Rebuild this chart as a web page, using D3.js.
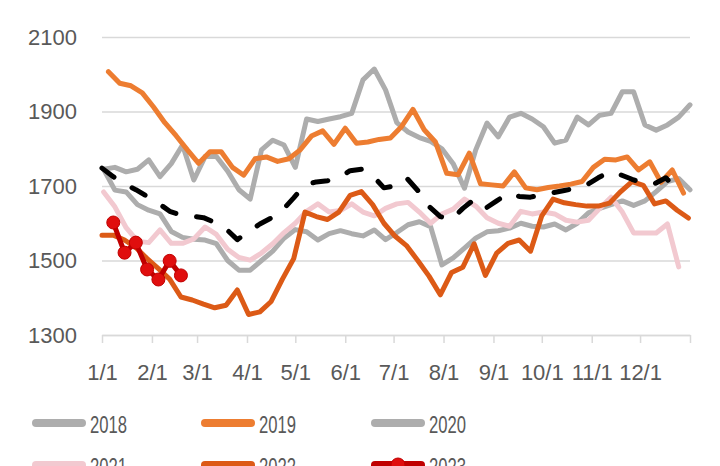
<!DOCTYPE html>
<html>
<head>
<meta charset="utf-8">
<script src="https://cdn.jsdelivr.net/npm/d3@7"></script>
<style>
  html, body { margin: 0; padding: 0; background: #fff; }
  svg { display: block; font-family: "Liberation Sans", Arial, sans-serif; }
</style>
</head>
<body>
<svg id="chart" width="720" height="466"></svg>
<script>
// ---------- data ----------
const monthLabels = ["1/1","2/1","3/1","4/1","5/1","6/1","7/1","8/1","9/1","10/1","11/1","12/1"];
const yTicks = [1300, 1500, 1700, 1900, 2100];
const seriesNames = ["2018","2019","2020","2021","2022","2023"];
// first weekly observation (day offset from Jan 1) per series
const firstDay = { "2018": 1, "2019": 4, "2020": 1, "2021": 1, "2022": 0, "2023": 7, "avg": 0 };

const v2018 = [1745,1689,1684,1650,1635,1625,1578,1562,1557,1555,1545,1500,1474,1474,1500,1525,1560,1583,1577,1555,
               1572,1580,1572,1566,1582,1556,1575,1596,1604,1591,1488,1507,1533,1560,1577,1580,1587,1600,1592,1590,
               1598,1582,1600,1628,1640,1650,1660,1648,1660,1685,1712,1720,1690];
const v2019 = [2007,1976,1969,1950,1912,1870,1835,1797,1761,1792,1792,1750,1729,1773,1778,1766,1773,1797,1834,1848,
               1812,1855,1815,1818,1825,1829,1860,1906,1851,1818,1734,1730,1788,1706,1703,1700,1738,1695,1690,1696,
               1700,1705,1712,1750,1772,1770,1778,1743,1765,1710,1743,1681];
const v2020 = [1745,1750,1738,1745,1770,1725,1760,1810,1716,1779,1779,1740,1690,1665,1797,1823,1810,1750,1880,1873,
               1880,1886,1895,1985,2014,1958,1870,1845,1830,1820,1800,1760,1694,1797,1869,1832,1885,1895,1880,1859,
               1815,1823,1885,1864,1890,1895,1953,1953,1864,1850,1864,1885,1918];
const v2021 = [1684,1644,1588,1552,1548,1582,1546,1546,1558,1590,1570,1530,1508,1501,1520,1545,1575,1600,1632,1652,
               1630,1634,1652,1630,1620,1640,1652,1656,1630,1600,1625,1638,1665,1646,1615,1600,1592,1632,1625,1630,
               1625,1608,1603,1608,1640,1670,1630,1574,1574,1574,1598,1483];
const v2022 = [1568,1568,1555,1535,1505,1478,1450,1402,1394,1383,1373,1380,1421,1355,1362,1390,1450,1505,1630,1618,
               1610,1630,1675,1685,1650,1600,1565,1540,1500,1458,1408,1468,1482,1545,1460,1520,1546,1555,1525,1620,
               1665,1655,1650,1646,1646,1654,1685,1712,1702,1652,1660,1635,1614];
const v2023 = [1602,1521,1548,1476,1449,1499,1460];
const vAvg  = [1748,1725,1705,1690,1672,1654,1632,1622,1619,1615,1602,1585,1556,1578,1598,1614,1635,1668,1703,1711,
               1714,1722,1741,1745,1728,1695,1700,1722,1688,1645,1618,1610,1640,1664,1640,1660,1680,1672,1670,1677,
               1682,1688,1694,1703,1722,1738,1730,1718,1707,1706,1722,1689];

// ---------- styles ----------
const colors = { "2018": "#ADADAD", "2019": "#ED7D31", "2020": "#ADADAD", "2021": "#F2C9D0", "2022": "#DC5A16", "2023": "#C00000", "avg": "#000000" };
const textColor = "#595959";
const gridColor = "#D9D9D9";

const svg = d3.select("#chart");
const plotL = 102, plotR = 690, plotT = 37, plotB = 335;

const x = d3.scaleTime().domain([new Date(2001, 0, 1), new Date(2002, 0, 1)]).range([plotL, plotR]);
const y = d3.scaleLinear().domain([1300, 2100]).range([plotB, plotT]);

// gridlines + y labels
const yAxis = d3.axisLeft(y).tickValues(yTicks).tickSize(-(plotR - plotL)).tickPadding(25).tickFormat(d3.format("d"));
const gy = svg.append("g").attr("transform", `translate(${plotL},0)`).call(yAxis);
gy.select(".domain").remove();
gy.selectAll(".tick line").attr("stroke", gridColor).attr("stroke-width", 1.5);
gy.selectAll(".tick text").attr("fill", textColor).attr("font-size", 22).style("font-family", "Liberation Sans, Arial, sans-serif");

// x axis
const tickDates = d3.timeMonth.range(new Date(2001, 0, 1), new Date(2002, 0, 2));
const xAxis = d3.axisBottom(x).tickValues(tickDates).tickSizeInner(8).tickSizeOuter(0).tickPadding(21)
  .tickFormat((d, i) => monthLabels[i] || "");
const gx = svg.append("g").attr("transform", `translate(0,${plotB})`).call(xAxis);
gx.select(".domain").attr("stroke", gridColor).attr("stroke-width", 1.5);
gx.selectAll(".tick line").attr("stroke", gridColor).attr("stroke-width", 1.5);
gx.selectAll(".tick text").attr("fill", textColor).attr("font-size", 22).style("font-family", "Liberation Sans, Arial, sans-serif");

// series
function pts(key, vals) {
  return vals.map((v, i) => ({ date: new Date(2001, 0, 1 + firstDay[key] + 7 * i), v }));
}
const line = d3.line().x(d => x(d.date)).y(d => y(d.v));

const seriesData = [
  ["2018", v2018], ["2020", v2020], ["2021", v2021], ["2019", v2019], ["2022", v2022]
];
seriesData.forEach(([k, vals]) => {
  svg.append("path").datum(pts(k, vals)).attr("d", line)
    .attr("fill", "none").attr("stroke", colors[k]).attr("stroke-width", 5)
    .attr("stroke-linejoin", "round").attr("stroke-linecap", "round");
});

// average dashed
svg.append("path").datum(pts("avg", vAvg)).attr("d", line)
  .attr("fill", "none").attr("stroke", colors.avg).attr("stroke-width", 5)
  .attr("stroke-dasharray", "15,21").attr("stroke-linecap", "round").attr("stroke-linejoin", "round");

// 2023 with markers
const p23 = pts("2023", v2023);
svg.append("path").datum(p23).attr("d", line)
  .attr("fill", "none").attr("stroke", colors["2023"]).attr("stroke-width", 5).attr("stroke-linejoin", "round");
svg.selectAll("circle.m23").data(p23).enter().append("circle").attr("class", "m23")
  .attr("cx", d => x(d.date)).attr("cy", d => y(d.v)).attr("r", 6.5)
  .attr("fill", "#E00E0E").attr("stroke", "#C00000").attr("stroke-width", 1);

// legend
const legCols = [32, 201, 371];
const legRows = [433, 475];
seriesNames.forEach((name, i) => {
  const cx0 = legCols[i % 3], base = legRows[Math.floor(i / 3)];
  const g = svg.append("g");
  g.append("line").attr("x1", cx0 + 4).attr("x2", cx0 + 50).attr("y1", base - 10).attr("y2", base - 10)
    .attr("stroke", colors[name]).attr("stroke-width", 8).attr("stroke-linecap", "round");
  if (name === "2023") {
    g.append("circle").attr("cx", cx0 + 27).attr("cy", base - 10).attr("r", 7)
      .attr("fill", "#E00E0E").attr("stroke", "#C00000");
  }
  g.append("text").attr("x", cx0 + 58).attr("y", base).text(name)
    .attr("fill", textColor).attr("font-size", 24)
    .attr("textLength", 37).attr("lengthAdjust", "spacingAndGlyphs");
});
</script>
</body>
</html>
